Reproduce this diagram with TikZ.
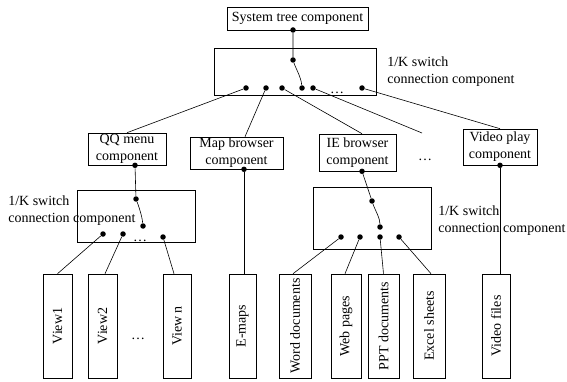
\documentclass[tikz,border=0pt]{standalone}
\usepackage{fontspec}
\setmainfont{Liberation Serif}
\usepackage{graphicx}
\usetikzlibrary{positioning}

\tikzset{
	comp/.style={draw, rectangle, inner sep=0pt, align=center},
	swbox/.style={draw, rectangle, inner sep=0pt},
	leaf/.style={draw, rectangle, inner sep=0pt, minimum height=104pt},
	pin/.style={circle, fill, inner sep=0pt, minimum size=5.5pt},
	lbl/.style={inner sep=0pt, align=left, anchor=west},
	gap/.style={inner sep=0pt}
}

\begin{document}
\begin{tikzpicture}[x=1pt,y=-1pt,line width=0.6pt,font=\fontsize{14}{17}\selectfont]
		\useasboundingbox (0,0) rectangle (567,382);
		%top level
		\node[comp,minimum width=141pt,minimum height=23pt] (sys) at (297.5,18.5) {System tree component};
		\node[swbox,minimum width=162pt,minimum height=47pt] (sw1) at (295,71.5) {};
		\node[lbl] (lbl1) at (387,72) {1/K switch\\connection component};
		\node[pin] (sysout) at (293,30) {};
		\node[pin] (sw1in) at (293,60) {};
		\node[pin] (sw1sel) at (302,88) {};
		\foreach \x/\n in {246/a,266/b,282/c,313/d,362/e}
			\node[pin] (sw1\n) at (\x,88) {};
		\node[gap] (sw1dots) at (337,93) {\ldots};
		\draw (sysout) -- (sw1in) .. controls (296,69) and (301,77) .. (sw1sel);
		
		%components
		\node[comp,minimum width=78pt,minimum height=32pt] (qq) at (127,149) {QQ menu\\component};
		\node[comp,minimum width=93pt,minimum height=32pt] (map) at (236.5,153) {Map browser\\component};
		\node[comp,minimum width=77pt,minimum height=37pt] (ie) at (357.5,152.5) {IE browser\\component};
		\node[comp,minimum width=74pt,minimum height=36pt] (video) at (500,147) {Video play\\component};
		\node[gap] (middots) at (425,160) {\ldots};
		\coordinate (more1) at (422,133);
		\draw (sw1a) -- (qq.north);
		\draw (sw1b) -- ([xshift=8.5pt]map.north);
		\draw (sw1c) -- ([xshift=4.5pt]ie.north);
		\draw (sw1d) -- (more1);
		\draw (sw1e) -- (video.north);
		\node[pin] (qqout) at ([xshift=8pt]qq.south) {};
		\node[pin] (mapout) at ([xshift=7.5pt]map.south) {};
		\node[pin] (ieout) at ([xshift=4.5pt]ie.south) {};
		\node[pin] (videoout) at (video.south) {};
		
		%left switch
		\node[swbox,minimum width=118pt,minimum height=52pt] (sw2) at (136,216) {};
		\node[lbl] (lbl2) at (8,211) {1/K switch\\connection component};
		\node[pin] (sw2in) at (136,199) {};
		\node[pin] (sw2sel) at (143,226) {};
		\node[pin] (sw2a) at (103,234) {};
		\node[pin] (sw2b) at (123,234) {};
		\node[pin] (sw2c) at (163,237) {};
		\node[gap] (sw2dots) at (140,241) {\ldots};
		\draw (qqout) -- (sw2in) .. controls (139,207) and (142,216) .. (sw2sel);
		
		%right switch
		\node[swbox,minimum width=118pt,minimum height=62pt] (sw3) at (372,218) {};
		\node[lbl] (lbl3) at (438,221) {1/K switch\\connection component};
		\node[pin] (sw3in) at (372,201) {};
		\node[pin] (sw3sel) at (380,227) {};
		\foreach \x/\n in {341/a,360/b,380/c,399/d}
			\node[pin] (sw3\n) at (\x,237) {};
		\draw (ieout) -- (sw3in) .. controls (375,210) and (380,218) .. (sw3sel);
		
		%leaves
		\node[leaf,minimum width=29pt] (view1) at (57.5,326) {\rotatebox{90}{View1}};
		\node[leaf,minimum width=29pt] (view2) at (102.5,326) {\rotatebox{90}{View2}};
		\node[gap] (leafdots) at (138,339) {\ldots};
		\node[leaf,minimum width=28pt] (viewn) at (177,326) {\rotatebox{90}{View n}};
		\node[leaf,minimum width=27pt] (emaps) at (242.5,326) {\rotatebox{90}{E-maps}};
		\node[leaf,minimum width=32pt] (word) at (295,326) {\rotatebox{90}{Word documents}};
		\node[leaf,minimum width=30pt] (web) at (346,326) {\rotatebox{90}{Web pages}};
		\node[leaf,minimum width=31pt] (ppt) at (383.5,326) {\rotatebox{90}{PPT documents}};
		\node[leaf,minimum width=32pt] (excel) at (429,326) {\rotatebox{90}{Excel sheets}};
		\node[leaf,minimum width=28pt] (vfiles) at (496,326) {\rotatebox{90}{Video files}};
		
		\draw (sw2a) -- (view1.north);
		\draw (sw2b) -- ([xshift=2.5pt]view2.north);
		\draw (sw2c) -- ([xshift=-3pt]viewn.north);
		\draw (mapout) -- ([xshift=1.5pt]emaps.north);
		\draw (sw3a) -- ([xshift=-2pt]word.north);
		\draw (sw3b) -- ([xshift=-1pt]web.north);
		\draw (sw3c) -- (ppt.north);
		\draw (sw3d) -- ([xshift=2pt]excel.north);
		\draw (videoout) -- ([xshift=4pt]vfiles.north);
		
\end{tikzpicture}
\end{document}
